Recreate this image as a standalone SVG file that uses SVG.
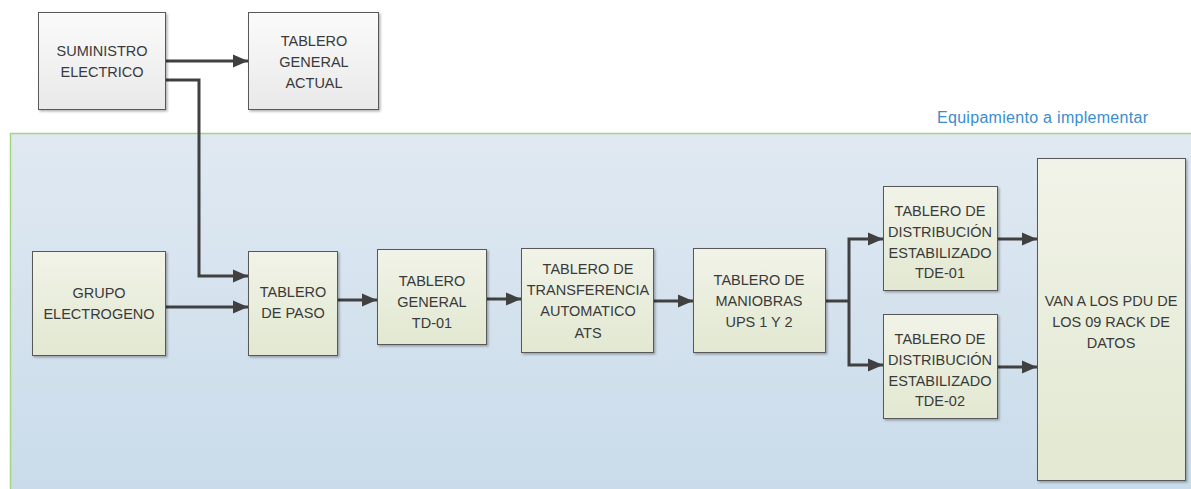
<svg xmlns="http://www.w3.org/2000/svg" width="1191" height="489" viewBox="0 0 1191 489">
<defs>
<linearGradient id="gCont" x1="0" y1="0" x2="0" y2="1"><stop offset="0" stop-color="#e0e9f2"/><stop offset="1" stop-color="#c9dbea"/></linearGradient>
<linearGradient id="gGray" x1="0" y1="0" x2="0" y2="1"><stop offset="0" stop-color="#fbfbfb"/><stop offset="1" stop-color="#e9e9e9"/></linearGradient>
<linearGradient id="gGreen" x1="0" y1="0" x2="0" y2="1"><stop offset="0" stop-color="#f1f3e8"/><stop offset="1" stop-color="#e2e8d1"/></linearGradient>
<filter id="sh" x="-10%" y="-10%" width="130%" height="130%"><feDropShadow dx="1.5" dy="1.5" stdDeviation="1.2" flood-color="#000" flood-opacity="0.3"/></filter>
<marker id="ah" markerUnits="userSpaceOnUse" markerWidth="16" markerHeight="14" refX="15" refY="7" orient="auto"><path d="M0,0.5 L15,7 L0,13.5 Z" fill="#404040"/></marker>
<style>
.bx{stroke:#595959;stroke-width:1;filter:url(#sh)}
.gr{fill:url(#gGray)}
.gn{fill:url(#gGreen)}
.t{font-family:"Liberation Sans",Arial,sans-serif;font-size:14.5px;fill:#3a3a3a;text-anchor:middle}
.c{fill:none;stroke:#404040;stroke-width:3;marker-end:url(#ah)}
.cn{fill:none;stroke:#404040;stroke-width:3}
</style>
</defs>
<g id="container">
<rect x="10.5" y="133.5" width="1190" height="360" fill="url(#gCont)" stroke="#a3d57f" stroke-width="1.5"/>
<text x="1148" y="123" font-family="Liberation Sans,Arial,sans-serif" font-size="16" fill="#3a8dd0" text-anchor="end" textLength="211">Equipamiento a implementar</text>
</g>
<g id="connectors">
<line class="c" x1="166" y1="61" x2="248" y2="61"/>
<path class="c" d="M166,80 H199 V276 H248"/>
<line class="c" x1="166" y1="307" x2="248" y2="307"/>
<line class="c" x1="338" y1="300" x2="377" y2="300"/>
<line class="c" x1="487" y1="299" x2="521" y2="299"/>
<line class="c" x1="654" y1="301" x2="693" y2="301"/>
<line class="cn" x1="826" y1="301" x2="849" y2="301"/>
<path class="c" d="M849,301 V239 H883"/>
<path class="c" d="M849,301 V365 H883"/>
<line class="c" x1="998" y1="239" x2="1037" y2="239"/>
<line class="c" x1="998" y1="367" x2="1037" y2="367"/>
</g>
<g id="suministro">
<rect class="bx gr" x="38.5" y="12.5" width="127" height="97"/>
<text class="t" x="102" y="56">SUMINISTRO</text>
<text class="t" x="102" y="77">ELECTRICO</text>
</g>
<g id="tablero-general-actual">
<rect class="bx gr" x="248.5" y="12.5" width="130" height="97"/>
<text class="t" x="314" y="46">TABLERO</text>
<text class="t" x="314" y="67">GENERAL</text>
<text class="t" x="314" y="88">ACTUAL</text>
</g>
<g id="grupo">
<rect class="bx gn" x="32.5" y="251.5" width="133" height="104"/>
<text class="t" x="99" y="298">GRUPO</text>
<text class="t" x="99" y="319">ELECTROGENO</text>
</g>
<g id="paso">
<rect class="bx gn" x="248.5" y="251.5" width="89" height="104"/>
<text class="t" x="293" y="297">TABLERO</text>
<text class="t" x="293" y="318">DE PASO</text>
</g>
<g id="td01">
<rect class="bx gn" x="377.5" y="249.5" width="109" height="95"/>
<text class="t" x="432" y="286">TABLERO</text>
<text class="t" x="432" y="307">GENERAL</text>
<text class="t" x="432" y="328">TD-01</text>
</g>
<g id="ats">
<rect class="bx gn" x="521.5" y="248.5" width="132" height="104"/>
<text class="t" x="588" y="274">TABLERO DE</text>
<text class="t" x="588" y="295">TRANSFERENCIA</text>
<text class="t" x="588" y="316">AUTOMATICO</text>
<text class="t" x="588" y="338">ATS</text>
</g>
<g id="maniobras">
<rect class="bx gn" x="693.5" y="248.5" width="132" height="104"/>
<text class="t" x="759" y="285">TABLERO DE</text>
<text class="t" x="759" y="306">MANIOBRAS</text>
<text class="t" x="759" y="327">UPS 1 Y 2</text>
</g>
<g id="tde01">
<rect class="bx gn" x="883.5" y="186.5" width="114" height="104"/>
<text class="t" x="940" y="216">TABLERO DE</text>
<text class="t" x="940" y="237">DISTRIBUCIÓN</text>
<text class="t" x="940" y="258">ESTABILIZADO</text>
<text class="t" x="940" y="278">TDE-01</text>
</g>
<g id="tde02">
<rect class="bx gn" x="883.5" y="314.5" width="114" height="104"/>
<text class="t" x="940" y="344">TABLERO DE</text>
<text class="t" x="940" y="365">DISTRIBUCIÓN</text>
<text class="t" x="940" y="386">ESTABILIZADO</text>
<text class="t" x="940" y="406">TDE-02</text>
</g>
<g id="racks">
<rect class="bx gn" x="1037.5" y="158.5" width="148" height="322"/>
<text class="t" x="1111" y="306">VAN A LOS PDU DE</text>
<text class="t" x="1111" y="327">LOS 09 RACK DE</text>
<text class="t" x="1111" y="348">DATOS</text>
</g>
</svg>
